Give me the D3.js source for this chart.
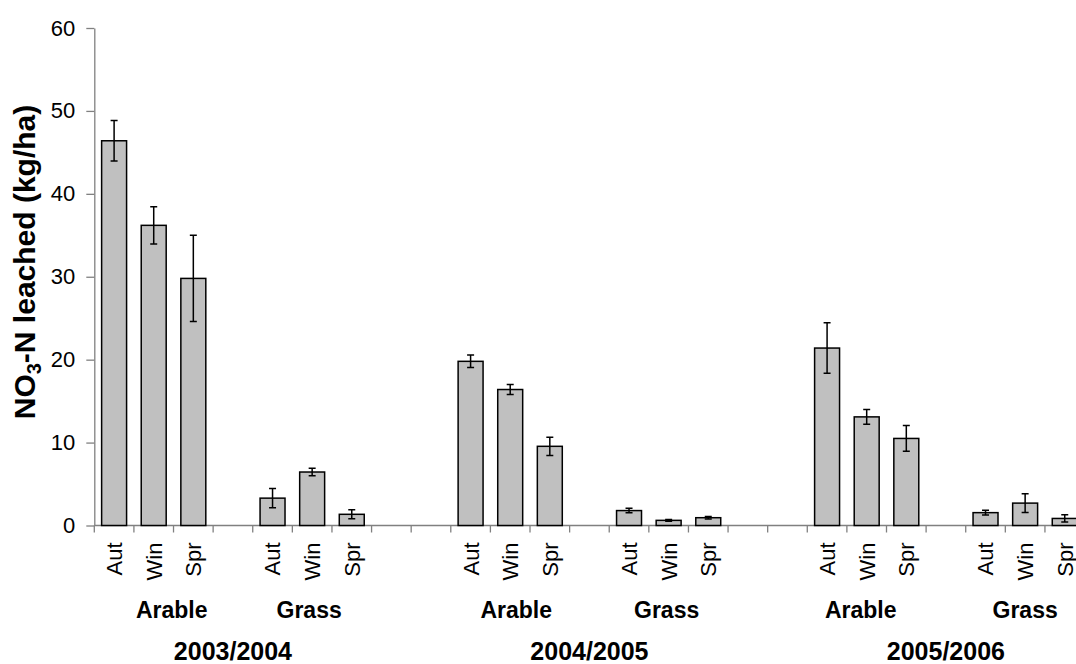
<!DOCTYPE html>
<html>
<head>
<meta charset="utf-8">
<script src="https://cdn.jsdelivr.net/npm/d3@7"></script>
<style>
    body { margin: 0; background: #fff; overflow: hidden; }
    svg { display: block; font-family: "Liberation Sans", Arial, sans-serif; }
    .bar { fill: #c0c0c0; stroke: #000; stroke-width: 1.5; }
    .err { stroke: #000; stroke-width: 1.5; fill: none; }
    .axis path, .axis line { stroke: #808080; stroke-width: 1.3; }
</style>
</head>
<body>
<script>
//chart values
var years = ["2003/2004", "2004/2005", "2005/2006"];
var landUses = ["Arable", "Grass"];
var seasons = ["Aut", "Win", "Spr"];
var yTicks = [0, 10, 20, 30, 40, 50, 60];

//mean NO3-N leached, one row per year, one column per season
var arableMeans = [[46.4, 36.2, 29.8], [19.8, 16.4, 9.55], [21.4, 13.1, 10.5]];
var arableErrors = [[2.45, 2.25, 5.2], [0.75, 0.6, 1.1], [3.05, 0.9, 1.55]];
var grassMeans = [[3.3, 6.45, 1.35], [1.8, 0.62, 0.94], [1.55, 2.7, 0.85]];
var grassErrors = [[1.15, 0.45, 0.55], [0.27, 0.1, 0.15], [0.28, 1.12, 0.44]];

window.onload = drawChart();

function drawChart(){

    var width = 1076,
        height = 664;

    //each year takes 9 slots: 3 arable, 1 blank, 3 grass, 2 blank
    var slotsPerYear = 9,
        grassStart = 4;

    var svg = d3.select("body")
        .append("svg")
        .attr("width", width)
        .attr("height", height);

    //one band per slot, the last year runs off the right edge
    var x = d3.scaleBand()
        .domain(d3.range(slotsPerYear * years.length))
        .range([94.3, 94.3 + 39.61 * slotsPerYear * years.length]);

    var y = d3.scaleLinear()
        .domain([0, 60])
        .range([525.5, 28]);

    //flatten the arrays into bar records
    var bars = [];
    years.forEach(function(yr, i){
        seasons.forEach(function(s, j){
            bars.push({slot: i * slotsPerYear + j, season: s, value: arableMeans[i][j], err: arableErrors[i][j]});
            bars.push({slot: i * slotsPerYear + grassStart + j, season: s, value: grassMeans[i][j], err: grassErrors[i][j]});
        });
    });

    var barW = x.bandwidth() * 0.63;
    function cx(slot){ return x(slot) + x.bandwidth() / 2; }

    //y axis
    var yAxis = svg.append("g")
        .attr("class", "axis")
        .attr("transform", "translate(" + x(0) + ",0)")
        .call(d3.axisLeft(y).tickValues(yTicks).tickSize(8).tickSizeOuter(0).tickPadding(11));
    yAxis.selectAll("text")
        .attr("fill", "#000")
        .style("font-size", "22px");

    //x axis: line plus tick marks on slot boundaries
    var lastSlot = slotsPerYear * years.length - 2;
    var xAxis = svg.append("g").attr("class", "axis");
    xAxis.append("line")
        .attr("x1", x(0)).attr("x2", x(lastSlot) + x.bandwidth())
        .attr("y1", y(0)).attr("y2", y(0));
    xAxis.selectAll(".xtick")
        .data(d3.range(lastSlot + 2))
        .enter()
        .append("line")
        .attr("class", "xtick")
        .attr("x1", function(d){ return x(0) + d * x.bandwidth(); })
        .attr("x2", function(d){ return x(0) + d * x.bandwidth(); })
        .attr("y1", y(0))
        .attr("y2", y(0) + 7);

    //bars
    svg.selectAll(".bar")
        .data(bars)
        .enter()
        .append("rect")
        .attr("class", "bar")
        .attr("x", function(d){ return cx(d.slot) - barW / 2; })
        .attr("y", function(d){ return y(d.value); })
        .attr("width", barW)
        .attr("height", function(d){ return y(0) - y(d.value); });

    //error bars
    svg.selectAll(".err")
        .data(bars)
        .enter()
        .append("path")
        .attr("class", "err")
        .attr("d", function(d){
            var c = cx(d.slot), t = y(d.value + d.err), b = y(d.value - d.err), w = 3.5;
            return "M" + c + "," + t + "V" + b +
                "M" + (c - w) + "," + t + "H" + (c + w) +
                "M" + (c - w) + "," + b + "H" + (c + w);
        });

    //season labels, rotated
    svg.selectAll(".season")
        .data(bars)
        .enter()
        .append("text")
        .attr("class", "season")
        .attr("transform", function(d){ return "translate(" + cx(d.slot) + ",542.5) rotate(-90)"; })
        .attr("dy", "0.36em")
        .attr("text-anchor", "end")
        .style("font-size", "22px")
        .text(function(d){ return d.season; });

    //land use labels, hand-placed in the original so nudged a little
    var nudge = [18, -3, 6, -2, -6, 0];
    var groups = [];
    years.forEach(function(yr, i){
        landUses.forEach(function(u, k){
            var first = i * slotsPerYear + k * grassStart;
            groups.push({name: u, centre: (cx(first) + cx(first + 2)) / 2 + nudge[i * 2 + k]});
        });
    });
    svg.selectAll(".group")
        .data(groups)
        .enter()
        .append("text")
        .attr("class", "group")
        .attr("x", function(d){ return d.centre; })
        .attr("y", 618)
        .attr("text-anchor", "middle")
        .style("font-size", "23px")
        .style("font-weight", "bold")
        .text(function(d){ return d.name; });

    //year labels under each block
    svg.selectAll(".year")
        .data(years)
        .enter()
        .append("text")
        .attr("class", "year")
        .attr("x", function(d, i){ return (cx(i * slotsPerYear) + cx(i * slotsPerYear + 6)) / 2; })
        .attr("y", 660)
        .attr("text-anchor", "middle")
        .style("font-size", "25px")
        .style("font-weight", "bold")
        .text(function(d){ return d; });

    //y axis title with subscript
    var title = svg.append("text")
        .attr("transform", "translate(35,262) rotate(-90)")
        .attr("text-anchor", "middle")
        .style("font-size", "30px")
        .style("font-weight", "bold");
    title.append("tspan").text("NO");
    title.append("tspan").attr("dy", "0.3em").style("font-size", "20px").text("3");
    title.append("tspan").attr("dy", "-0.2em").text("-N leached (kg/ha)");
};
</script>
</body>
</html>
